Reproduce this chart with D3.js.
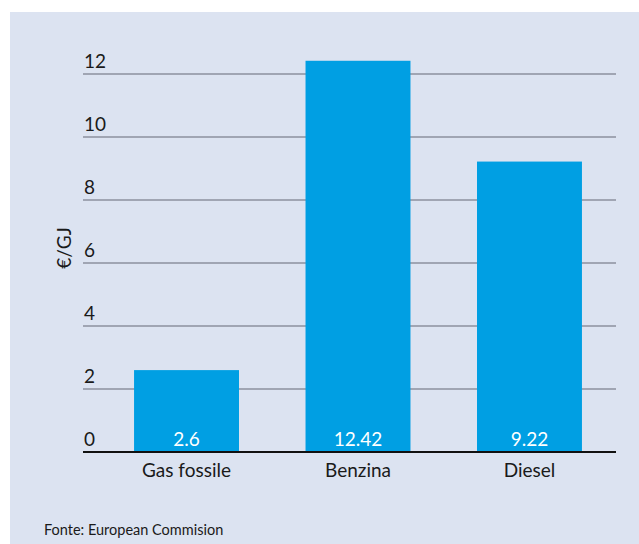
<!DOCTYPE html>
<html>
<head>
<meta charset="utf-8">
<script src="https://cdn.jsdelivr.net/npm/d3@7"></script>
<style>
  html, body { margin: 0; padding: 0; background: #ffffff; }
  svg { display: block; }
  text { font-family: "Source Sans Pro", Lato, "Open Sans", sans-serif; }
</style>
</head>
<body>
<svg id="chart" width="639" height="544"></svg>
<script>
// Fuel cost per unit of energy
const categories = ["Gas fossile", "Benzina", "Diesel"];
const values = [2.6, 12.42, 9.22];
const valueLabels = ["2.6", "12.42", "9.22"];
const yTicks = [0, 2, 4, 6, 8, 10, 12];
const yTitle = "€/GJ";
const source = "Fonte: European Commision";

const svg = d3.select("#chart");
const W = 639, H = 544;

// panel background
svg.append("rect")
  .attr("x", 10).attr("y", 12)
  .attr("width", W - 10).attr("height", H - 12)
  .attr("fill", "#dce3f1");

const gridLeft = 83, gridRight = 616;

const y = d3.scaleLinear().domain([0, 12]).range([452, 74]);
const x = d3.scaleBand()
  .domain(categories)
  .range([108.5, 607.5])
  .paddingInner(0.388)
  .paddingOuter(0.149);

// horizontal gridlines with labels sitting above them
const grid = svg.append("g");
grid.selectAll("line")
  .data(yTicks.filter(d => d !== 0))
  .join("line")
  .attr("x1", gridLeft).attr("x2", gridRight)
  .attr("y1", d => y(d)).attr("y2", d => y(d))
  .attr("stroke", "#8c919e")
  .attr("stroke-width", 1.6);

grid.selectAll("text")
  .data(yTicks)
  .join("text")
  .attr("x", gridLeft + 1)
  .attr("y", d => y(d) - 6)
  .attr("font-size", 19)
  .attr("fill", "#1a1a1a")
  .text(d => d);

// bars
svg.append("g").selectAll("rect")
  .data(values)
  .join("rect")
  .attr("x", (d, i) => x(categories[i]))
  .attr("y", d => y(d))
  .attr("width", x.bandwidth())
  .attr("height", d => y(0) - y(d))
  .attr("fill", "#009fe3");

// value labels inside bars
svg.append("g").selectAll("text")
  .data(values)
  .join("text")
  .attr("x", (d, i) => x(categories[i]) + x.bandwidth() / 2)
  .attr("y", y(0) - 6)
  .attr("text-anchor", "middle")
  .attr("font-size", 19)
  .attr("fill", "#ffffff")
  .text((d, i) => valueLabels[i]);

// baseline
svg.append("line")
  .attr("x1", gridLeft).attr("x2", gridRight)
  .attr("y1", y(0)).attr("y2", y(0))
  .attr("stroke", "#111111")
  .attr("stroke-width", 2.2);

// category axis labels
svg.append("g").selectAll("text")
  .data(categories)
  .join("text")
  .attr("x", d => x(d) + x.bandwidth() / 2)
  .attr("y", 477)
  .attr("text-anchor", "middle")
  .attr("font-size", 19)
  .attr("fill", "#1a1a1a")
  .text(d => d);

// y-axis title
svg.append("text")
  .attr("transform", "translate(71,248) rotate(-90)")
  .attr("text-anchor", "middle")
  .attr("font-size", 19)
  .attr("fill", "#1a1a1a")
  .text(yTitle);

// source note
svg.append("text")
  .attr("x", 44).attr("y", 535)
  .attr("font-size", 14.5)
  .attr("fill", "#1a1a1a")
  .text(source);
</script>
</body>
</html>
